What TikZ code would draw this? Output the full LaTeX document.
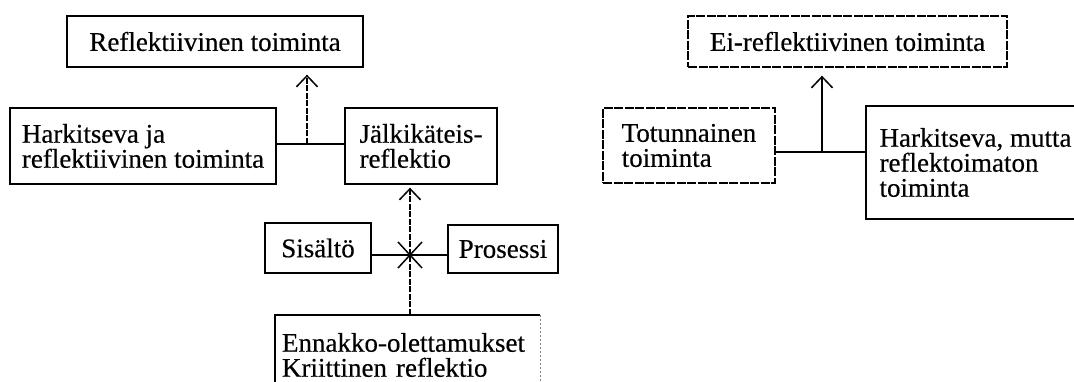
\documentclass[tikz,border=0pt]{standalone}
\usepackage{fontspec}
\setmainfont{Liberation Serif}[FakeBold=0.4]
\usetikzlibrary{arrows.meta}
\begin{document}
\begin{tikzpicture}[x=1pt,y=-1pt,
  every node/.style={font=\fontsize{27}{25}\selectfont},
  box/.style={draw, line width=1.4pt, inner sep=0pt, align=left},
  dbox/.style={box, dash pattern=on 9pt off 1.5pt},
  conn/.style={line width=1.5pt},
  dconn/.style={conn, dash pattern=on 6pt off 1.5pt},
  arr/.style={-{Straight Barb[length=11pt,width=21pt,line width=1.5pt]}}]
\useasboundingbox (0,0) rectangle (1074,382);
\clip (0,0) rectangle (1074,382);
% left group
\node[box, minimum width=296pt, minimum height=51pt, align=center] (refl) at (215,41.5) {Reflektiivinen toiminta};
\node[box, minimum width=266pt, minimum height=76pt] (hark) at (143,146) {Harkitseva ja\\reflektiivinen toiminta};
\node[box, minimum width=152pt, minimum height=76pt] (jalk) at (421,146) {Jälkikäteis-\\reflektio};
\node[box, minimum width=106pt, minimum height=50pt, align=center] (sis) at (318,248) {Sisältö};
\node[box, minimum width=110pt, minimum height=48pt, align=center] (pros) at (503,249) {Prosessi};
\node[inner sep=0pt, minimum width=265pt, minimum height=80pt, text width=251pt, align=left] (enn) at (407.5,355) {Ennakko-olettamukset\\Kriittinen reflektio};
\draw[line width=1.4pt] (enn.south west) -- (enn.north west) -- (enn.north east);
\draw[line width=0.9pt, gray, dash pattern=on 2pt off 2pt] (enn.north east) -- (enn.south east);
% connectors left
\coordinate (j1) at (307,144);
\draw[conn] (hark.east |- j1) -- (jalk.west |- j1);
\draw[dconn, arr, shorten >=7pt] (j1) -- (j1 |- refl.south);
\coordinate (cx) at (410,255);
\draw[conn] (sis.east |- cx) -- (pros.west |- cx);
\draw[dconn, arr, shorten >=3pt] (enn.north -| cx) -- (jalk.south -| cx);
\draw[conn] ([shift={(-12,-13)}]cx) -- ([shift={(12,13)}]cx);
\draw[conn] ([shift={(-12,13)}]cx) -- ([shift={(12,-13)}]cx);
% right group
\node[dbox, minimum width=319pt, minimum height=51pt, align=center] (ei) at (847.5,41.5) {Ei-reflektiivinen toiminta};
\node[dbox, minimum width=172pt, minimum height=75pt] (tot) at (689,145.5) {Totunnainen\\toiminta};
\node[box, minimum width=219pt, minimum height=113pt] (harkm) at (975.5,162.5) {Harkitseva, mutta\\reflektoimaton\\toiminta};
\coordinate (j2) at (822,152);
\draw[conn] (tot.east |- j2) -- (harkm.west |- j2);
\draw[conn, arr, shorten >=8pt] (j2) -- (j2 |- ei.south);
\end{tikzpicture}
\end{document}
